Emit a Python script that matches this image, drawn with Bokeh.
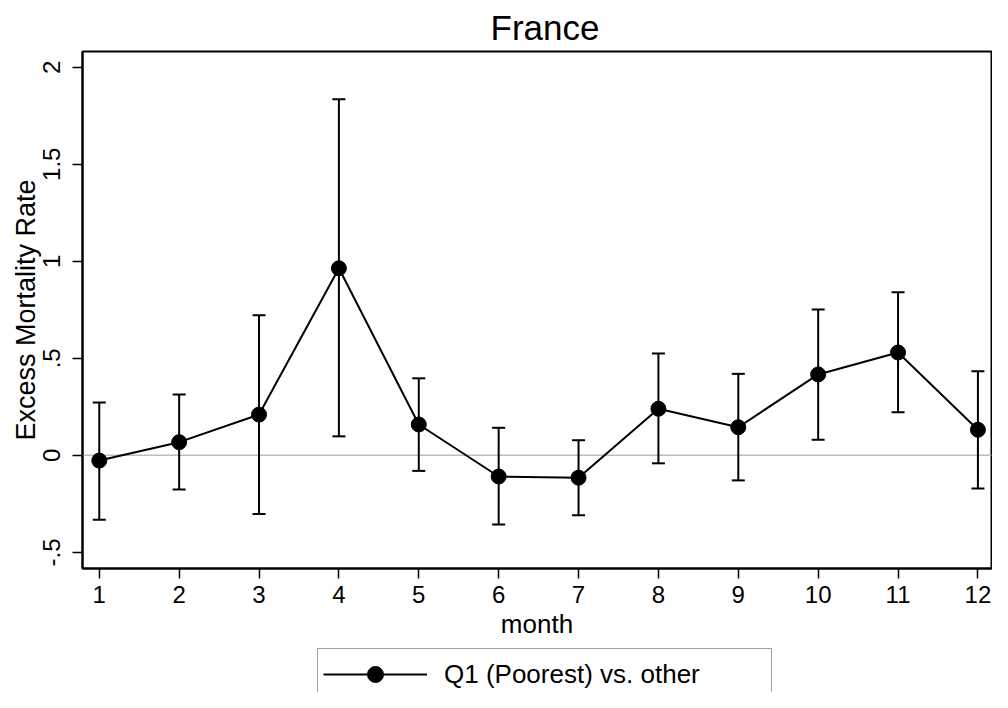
from bokeh.plotting import figure
from bokeh.layouts import column
from bokeh.models import (Whisker, Span, Legend, LegendItem, FixedTicker,
                          ColumnDataSource, Range1d, TeeHead)
from bokeh.embed import file_html
from bokeh.resources import INLINE

# ---- data ----
month = [1, 2, 3, 4, 5, 6, 7, 8, 9, 10, 11, 12]
coef = [-0.027, 0.068, 0.210, 0.964, 0.159, -0.109, -0.115, 0.240, 0.145, 0.417, 0.530, 0.132]
upper = [0.272, 0.313, 0.722, 1.835, 0.397, 0.142, 0.078, 0.525, 0.420, 0.752, 0.840, 0.434]
lower = [-0.332, -0.176, -0.302, 0.098, -0.080, -0.356, -0.309, -0.041, -0.129, 0.081, 0.222, -0.171]
y_ticks = [-0.5, 0, 0.5, 1, 1.5, 2]
y_tick_labels = ["-.5", "0", ".5", "1", "1.5", "2"]
series_label = "Q1 (Poorest) vs. other"
title_text = "France"
x_label = "month"
y_label = "Excess Mortality Rate"

FONT = "Liberation Sans"

src = ColumnDataSource(dict(month=month, coef=coef, upper=upper, lower=lower))

# ---------------- main chart ----------------
p = figure(width=992, height=646, output_backend="svg", toolbar_location=None,
           x_range=Range1d(0.79, 12.17), y_range=Range1d(-0.583, 2.081),
           min_border_left=82, min_border_right=1, min_border_top=51,
           min_border_bottom=78)
p.background_fill_color = "white"
p.border_fill_color = "white"
p.xgrid.visible = False
p.ygrid.visible = False
p.outline_line_color = "black"
p.outline_line_width = 2

p.title.text = title_text
p.title.align = "left"
p.title.offset = 408
p.title.text_font = FONT
p.title.text_font_size = "35px"
p.title.text_font_style = "normal"
p.title.text_color = "black"
p.title.standoff = 9

for ax in (p.xaxis[0], p.yaxis[0]):
    ax.axis_line_width = 2
    ax.axis_line_color = "black"
    ax.major_tick_line_width = 1.5
    ax.major_tick_line_color = "black"
    ax.major_tick_out = 10
    ax.major_tick_in = 0
    ax.minor_tick_line_color = None
    ax.major_label_text_font = FONT
    ax.major_label_text_font_size = "24px"
    ax.major_label_text_color = "black"
    ax.axis_label_text_font = FONT
    ax.axis_label_text_font_style = "normal"
    ax.axis_label_text_color = "black"

p.xaxis.ticker = FixedTicker(ticks=month)
p.xaxis.axis_label = x_label
p.xaxis.axis_label_text_font_size = "26px"
p.xaxis.major_label_standoff = 7
p.xaxis.axis_label_standoff = 3

p.yaxis.ticker = FixedTicker(ticks=y_ticks)
p.yaxis.major_label_overrides = {t: l for t, l in zip(y_ticks, y_tick_labels)}
p.yaxis.major_label_orientation = "parallel"
p.yaxis.axis_label = y_label
p.yaxis.axis_label_text_font_size = "27px"
p.yaxis.major_label_standoff = 12
p.yaxis.axis_label_standoff = 0

zero = Span(location=0, dimension="width", line_color="#bdbdbd", line_width=1.5,
            level="underlay")
p.add_layout(zero)

wh = Whisker(base="month", upper="upper", lower="lower", source=src,
             line_color="black", line_width=2,
             upper_head=TeeHead(size=13, line_width=2, line_color="black"),
             lower_head=TeeHead(size=13, line_width=2, line_color="black"))
p.add_layout(wh)

p.line("month", "coef", source=src, line_color="black", line_width=2)
p.scatter("month", "coef", source=src, size=15, fill_color="black",
          line_color="black")

# ---------------- legend strip (box cut off at the bottom, as in the reference) ----
p2 = figure(width=992, height=46, output_backend="svg", toolbar_location=None,
            x_range=Range1d(0, 1), y_range=Range1d(10, 11),
            x_axis_type=None, y_axis_type=None,
            min_border_left=0, min_border_right=0, min_border_top=0,
            min_border_bottom=0)
p2.outline_line_color = None
p2.background_fill_color = "white"
p2.border_fill_color = "white"
p2.grid.visible = False
ln2 = p2.line("month", "coef", source=src, line_color="black", line_width=2)
sc2 = p2.scatter("month", "coef", source=src, size=15, fill_color="black",
                 line_color="black")

legend = Legend(items=[LegendItem(label=series_label, renderers=[ln2, sc2])],
                location=(235, -8), glyph_width=104, glyph_height=40,
                label_standoff=17, label_text_font=FONT,
                label_text_font_size="26px", label_text_color="black",
                label_width=322, padding=5, spacing=0, margin=0,
                border_line_color="#444444", border_line_width=1.5,
                background_fill_color="white", background_fill_alpha=1)
p2.add_layout(legend)

layout = column(p, p2, spacing=0)
open("out.html", "w").write(file_html(layout, INLINE))
